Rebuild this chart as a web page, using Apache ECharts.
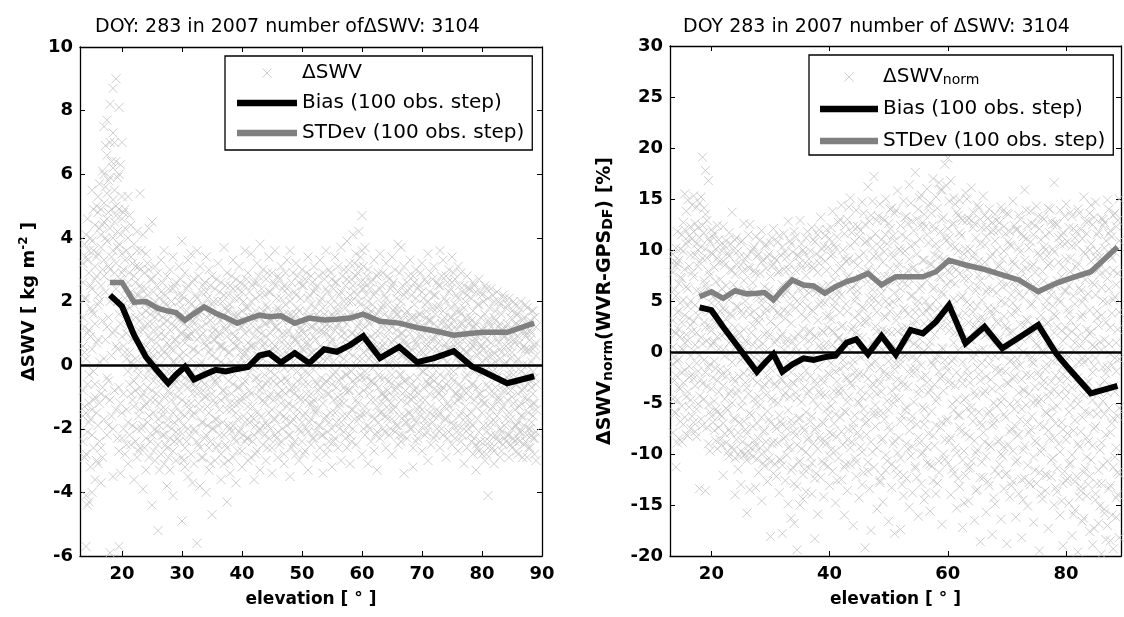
<!DOCTYPE html>
<html>
<head>
<meta charset="utf-8">
<script src="https://cdn.jsdelivr.net/npm/echarts@6/dist/echarts.min.js"></script>
<style>
  html, body { margin: 0; padding: 0; background: #ffffff; }
  #chart { width: 1124px; height: 617px; }
</style>
</head>
<body>
<div id="chart"></div>
<script>
// Tick positions along the elevation axes
const elevationTicksLeft = [20, 30, 40, 50, 60, 70, 80, 90];
const elevationTicksRight = [20, 40, 60, 80];

// Elevation of each 100-observation step
const stepElevation = [18, 20, 22, 24, 26, 27.7, 29, 30.5, 32, 33.7, 35.6, 37.3, 39.2, 41, 42.9, 44.5,
  46.5, 48.8, 51.2, 53.7, 55.8, 58, 60.2, 63, 66.2, 69.2, 72, 75.3, 78.3, 80.2, 84.2, 88.7];

// Step statistics of ΔSWV [kg m^-2]
const biasSwv = [2.2, 1.85, 0.95, 0.25, -0.2, -0.57, -0.3, -0.05, -0.45, -0.3, -0.15, -0.2, -0.12, -0.06, 0.3, 0.37,
  0.08, 0.38, 0.06, 0.5, 0.42, 0.63, 0.91, 0.22, 0.57, 0.09, 0.22, 0.44, -0.04, -0.2, -0.57, -0.35];
const stdSwv = [2.6, 2.6, 1.98, 2.0, 1.78, 1.7, 1.65, 1.41, 1.62, 1.83, 1.63, 1.5, 1.32, 1.45, 1.57, 1.52,
  1.55, 1.32, 1.48, 1.42, 1.44, 1.48, 1.6, 1.38, 1.32, 1.18, 1.08, 0.94, 1.0, 1.03, 1.03, 1.32];

// Step statistics of normalised ΔSWV [%]
const biasNorm = [4.38, 4.1, 2.45, 0.9, -0.62, -1.93, -1.1, -0.2, -1.93, -1.2, -0.62, -0.78, -0.5, -0.35, 0.92, 1.24,
  -0.2, 1.57, -0.25, 2.16, 1.83, 2.97, 4.6, 0.85, 2.48, 0.36, 1.4, 2.65, -0.13, -1.44, -4.05, -3.33];
const stdNorm = [5.42, 5.9, 5.26, 6.0, 5.7, 5.75, 5.82, 5.1, 6.1, 7.06, 6.57, 6.47, 5.75, 6.4, 6.9, 7.2,
  7.71, 6.57, 7.38, 7.38, 7.38, 7.87, 9.0, 8.53, 8.1, 7.55, 7.06, 5.92, 6.73, 7.12, 7.87, 10.3];

// Individual ΔSWV values [kg m^-2]; each row: elevation, then values at that elevation
const swvScatterRows = [
  [13.5, 3.2, 1.5, -0.8, -1.6, -2.4, 0.6, 2.6],
  [14, 4.1, -1.5, -4.1, -5.7, 0.2, 2.1, -2.8, 3.4],
  [14.5, 2.9, -1.2, -4.3, 1.1, -0.3, 3.6, -1.8],
  [15, 5.5, 3.9, -1.4, -4.0, 2.4, 0.5, -2.2, 1.7],
  [15.5, 4.4, 3.1, -0.6, -3.6, 1.3, 2.7, -1.0],
  [16, 5.3, 4.8, 2.2, -3.1, 0.8, 3.5, -1.9, 1.9],
  [16.5, 4.9, 3.7, -0.9, -3.7, 2.5, 4.1, -2.6],
  [17, 7.5, 6.0, 4.5, 3.3, 0.2, -1.7, 2.8, 5.1],
  [17.5, 7.7, 6.6, 5.4, 3.9, -2.2, 1.2, 4.6, -0.4],
  [18, 8.2, 7.0, 5.9, 4.3, 2.0, -5.9, 3.0, -1.1],
  [18.5, 8.7, 7.3, 6.2, 5.2, 3.6, -3.5, 1.0, 4.0, -2.0],
  [19, 9.0, 6.4, 5.0, 3.2, 0.6, -1.4, 4.7, 2.4],
  [19.5, 8.1, 6.0, 4.9, 3.8, -5.7, -2.7, 1.6, -0.7],
  [20, 7.0, 5.3, 4.6, 2.9, -1.5, 0.9, 3.5, -2.3],
  [20.5, 4.9, 4.3, 2.1, 0.4, -2.8, 1.7, 3.3],
  [21, 5.3, 4.0, 2.6, -0.2, -1.8, 1.2, -3.1],
  [21.5, 4.4, 3.4, 1.5, -0.9, -2.5, 2.3, 0.1],
  [22, 3.8, 2.8, 0.9, -1.3, -3.6, 1.9, -0.5],
  [22.5, 4.2, 3.6, 2.2, -0.1, -2.0, 0.8, -2.9],
  [23, 5.4, 3.0, 1.4, -0.7, -2.6, 2.5, -1.4],
  [23.5, 4.1, 2.1, 0.3, -1.9, -3.9, 1.1, -0.9],
  [24, 3.5, 2.4, 1.7, -0.4, -2.3, 0.6, -3.3, -1.2],
  [24.5, 4.3, 3.0, 0.9, -1.6, -2.9, 1.8, -0.2],
  [25, 4.5, 2.7, 1.3, -0.8, -2.2, 0.2, -4.4],
  [25.5, 3.1, 2.0, 0.5, -1.1, -3.0, 1.5, -2.0],
  [26, 2.9, 1.6, -0.3, -1.7, -2.5, 0.9, -5.2],
  [26.5, 3.3, 2.3, 1.0, -0.6, -2.8, -1.4, 0.3],
  [27, 3.6, 2.0, 0.4, -1.0, -3.1, 1.3, -2.2],
  [27.5, 2.8, 1.4, -0.2, -1.9, -3.8, 0.7, -2.6],
  [28, 3.0, 1.8, 0.6, -0.9, -2.3, -3.3, 1.1],
  [28.5, 3.4, 2.4, 0.1, -1.5, -2.7, -4.1, 1.6],
  [29, 2.6, 1.2, -0.5, -1.3, -3.0, 0.8, -2.1],
  [29.5, 3.1, 2.0, 0.3, -0.8, -2.4, -1.7, 1.4],
  [30, 3.9, 2.2, 1.0, -1.1, -2.9, -4.9, 0.2],
  [30.5, 2.9, 1.5, -0.4, -1.6, -2.6, 0.7, -3.2],
  [31, 3.3, 2.5, 0.9, -0.7, -2.0, -3.5, 1.2],
  [31.5, 3.5, 1.9, 0.2, -1.2, -2.8, 1.0, -0.3],
  [32, 2.7, 1.3, -0.6, -2.0, -3.1, 0.5, -1.5],
  [32.5, 3.6, 2.1, 0.8, -0.9, -2.4, -5.6, 1.5],
  [33, 3.1, 1.7, 0.0, -1.4, -3.8, -2.6, 0.9],
  [33.5, 2.5, 1.0, -0.8, -1.8, -2.9, 1.9, -0.2],
  [34, 3.4, 2.3, 0.6, -1.0, -2.2, -4.0, 1.3],
  [34.5, 3.0, 1.6, -0.3, -1.5, -3.3, 0.4, -2.6],
  [35, 2.8, 1.9, 0.3, -0.9, -2.0, -4.7, 1.0],
  [35.5, 2.4, 1.1, -0.5, -1.7, -3.0, 0.8, -1.2],
  [36, 3.2, 2.0, 0.9, -0.4, -2.5, -1.9, 1.5],
  [36.5, 2.6, 1.4, 0.1, -1.1, -2.8, -3.6, 0.6],
  [37, 3.7, 2.2, 0.5, -0.8, -2.2, -3.1, 1.2],
  [37.5, 2.9, 1.7, -0.2, -1.4, -2.6, 0.9, -4.3],
  [38, 2.5, 1.3, 0.4, -1.2, -3.4, -2.0, 1.9],
  [38.5, 3.3, 2.4, 0.7, -0.6, -1.9, -2.9, 1.0],
  [39, 2.7, 1.5, -0.1, -1.5, -2.4, 0.6, -3.7],
  [39.5, 3.1, 2.1, 0.8, -0.7, -2.1, -1.2, 1.4],
  [40, 2.3, 1.2, 0.2, -1.0, -2.7, -3.2, 1.7],
  [40.5, 3.6, 2.5, 1.0, -0.5, -1.8, -2.4, 0.4],
  [41, 2.9, 1.8, -0.3, -1.3, -2.3, 0.7, -3.0],
  [41.5, 3.5, 2.0, 0.6, -0.9, -2.9, 1.3, -1.6],
  [42, 2.6, 1.5, 0.0, -1.7, -2.2, 0.9, -3.6],
  [42.5, 3.2, 2.6, 1.1, -0.4, -1.5, -2.7, 0.3],
  [43, 3.8, 2.2, 0.8, -0.8, -2.0, -3.3, 1.5],
  [43.5, 3.0, 1.7, 0.2, -1.1, -2.5, 0.6, -1.9],
  [44, 2.7, 1.9, 0.9, -0.6, -1.8, -3.0, 1.3],
  [44.5, 3.4, 2.3, 0.4, -1.0, -2.3, 1.6, -1.5],
  [45, 2.9, 1.4, 0.0, -1.4, -2.6, 0.7, -3.4],
  [45.5, 3.6, 2.5, 1.2, -0.3, -1.7, -2.2, 0.6],
  [46, 2.8, 1.8, 0.5, -0.9, -2.1, -2.9, 1.1],
  [46.5, 3.1, 2.1, 0.3, -1.2, -2.4, 1.5, -0.5],
  [47, 2.5, 1.6, -0.1, -1.6, -2.8, 0.8, -3.1],
  [47.5, 3.3, 2.4, 1.0, -0.5, -1.9, -1.3, 0.4],
  [48, 3.6, 2.0, 0.6, -0.8, -2.2, -3.5, 1.4],
  [48.5, 2.9, 1.5, 0.1, -1.3, -2.5, 0.9, -1.7],
  [49, 3.2, 2.2, 0.8, -0.7, -1.6, -2.8, 1.6],
  [49.5, 2.6, 1.7, 0.3, -1.0, -2.0, 1.0, -3.0],
  [50, 3.0, 2.5, 1.1, -0.4, -1.8, -2.4, 0.5],
  [50.5, 2.7, 1.3, -0.2, -1.5, -2.7, 0.7, -1.1],
  [51, 3.4, 2.1, 0.7, -0.6, -2.1, 1.5, -3.3],
  [51.5, 2.8, 1.9, 0.4, -0.9, -1.7, -2.5, 1.2],
  [52, 3.1, 2.3, 0.9, -1.1, -2.3, 0.2, -1.4],
  [52.5, 2.5, 1.6, 0.0, -1.4, -2.9, 1.1, -0.6],
  [53, 3.3, 2.0, 0.6, -0.7, -1.9, -2.6, 1.4],
  [53.5, 2.9, 1.8, 0.2, -1.2, -2.2, 1.0, -3.4],
  [54, 3.6, 2.4, 1.0, -0.5, -1.6, -2.8, 0.5],
  [54.5, 3.0, 1.5, 0.3, -0.9, -2.4, 1.2, -1.8],
  [55, 2.7, 2.1, 0.8, -0.6, -2.0, -3.2, 1.6],
  [55.5, 3.4, 2.6, 1.1, -0.2, -1.5, -2.3, 0.4],
  [56, 3.1, 1.9, 0.5, -1.0, -2.6, 1.3, -1.3],
  [56.5, 3.7, 2.3, 0.9, -0.4, -1.8, -3.0, 1.5],
  [57, 3.0, 2.0, 0.2, -1.2, -2.1, 1.0, -0.7],
  [57.5, 3.9, 2.7, 1.3, -0.3, -1.6, -2.6, 0.6],
  [58, 3.2, 2.2, 0.7, -0.8, -2.2, 1.6, -3.1],
  [58.5, 4.1, 2.5, 1.0, -0.5, -1.4, -2.0, 0.3],
  [59, 3.5, 2.8, 1.5, 0.0, -1.1, -2.5, 0.9],
  [59.5, 4.2, 3.1, 2.0, 0.6, -0.9, -1.7, 1.3],
  [60, 4.7, 3.6, 2.4, 1.1, -0.4, -1.5, -2.8, 0.2],
  [60.5, 3.7, 2.6, 1.2, -0.2, -1.3, -2.2, 0.8],
  [61, 3.0, 2.0, 0.5, -0.7, -1.9, -3.1, 1.4],
  [61.5, 2.6, 1.7, 0.3, -1.1, -2.4, 0.9, -0.5],
  [62, 3.3, 2.2, 0.8, -0.6, -1.7, -2.7, 1.5],
  [62.5, 2.8, 1.6, 0.1, -1.3, -2.1, 0.6, -3.3],
  [63, 3.5, 2.4, 1.0, -0.4, -1.5, -2.3, 0.4],
  [63.5, 2.9, 1.9, 0.6, -0.9, -2.0, 1.3, -1.2],
  [64, 3.2, 2.1, 0.4, -1.0, -2.6, 0.9, -1.6],
  [64.5, 2.7, 1.5, 0.0, -1.4, -2.2, 1.1, -0.5],
  [65, 3.4, 2.5, 1.2, -0.3, -1.7, -2.8, 0.7],
  [65.5, 3.0, 1.8, 0.5, -0.8, -2.1, 1.4, -1.3],
  [66, 3.8, 2.3, 0.9, -0.6, -1.9, -2.5, 1.6],
  [66.5, 3.7, 2.0, 0.3, -1.1, -2.4, 1.0, -0.3],
  [67, 3.1, 2.2, 0.8, -0.5, -1.6, -3.4, 1.3],
  [67.5, 2.6, 1.7, 0.2, -1.2, -2.3, 0.6, -1.8],
  [68, 3.3, 2.4, 1.0, -0.4, -1.5, -2.0, 0.4],
  [68.5, 2.8, 1.5, 0.1, -1.0, -2.6, 1.2, -3.2],
  [69, 3.0, 2.1, 0.7, -0.7, -1.8, -2.4, 1.5],
  [69.5, 2.5, 1.6, 0.4, -0.9, -2.1, 0.9, -1.3],
  [70, 3.2, 2.3, 0.9, -0.2, -1.4, -2.7, 1.1],
  [70.5, 2.7, 1.9, 0.3, -1.1, -2.2, 0.6, -1.7],
  [71, 3.5, 2.0, 0.6, -0.6, -1.9, 1.4, -3.0],
  [71.5, 2.9, 1.4, 0.0, -1.3, -2.5, 0.8, -0.4],
  [72, 3.1, 2.2, 0.8, -0.5, -1.6, -2.3, 1.3],
  [72.5, 2.6, 1.8, 0.5, -0.8, -2.0, 1.0, -1.4],
  [73, 3.6, 2.5, 1.1, -0.3, -1.5, -2.6, 0.4],
  [73.5, 3.3, 1.7, 0.2, -1.0, -2.2, 1.4, -0.7],
  [74, 2.8, 2.0, 0.7, -0.6, -1.7, -2.9, 1.0],
  [74.5, 3.0, 2.3, 1.2, -0.2, -1.3, -2.1, 0.5],
  [75, 3.4, 2.6, 0.9, -0.4, -1.8, -2.5, 1.5],
  [75.5, 2.7, 1.9, 0.6, -0.9, -2.3, 1.2, -1.2],
  [76, 3.1, 2.1, 0.3, -1.1, -1.9, 0.8, -2.7],
  [76.5, 2.9, 1.6, 0.0, -0.7, -2.4, 1.3, -1.5],
  [77, 2.5, 1.8, 0.5, -0.8, -2.0, -3.1, 1.1],
  [77.5, 2.8, 2.2, 0.9, -0.3, -1.6, -2.6, 0.4],
  [78, 2.4, 1.5, 0.2, -1.0, -2.2, 0.7, -1.8],
  [78.5, 2.6, 1.7, 0.6, -0.6, -1.9, -2.8, 1.2],
  [79, 2.3, 1.3, -0.1, -1.3, -2.5, 0.8, -3.3],
  [79.5, 2.7, 1.9, 0.4, -0.9, -2.1, -2.7, 1.0],
  [80, 2.2, 1.1, 0.1, -1.5, -2.8, 0.6, -1.1],
  [80.5, 2.5, 1.6, -0.2, -1.2, -2.4, -3.0, 0.9],
  [81, 2.1, 1.4, 0.3, -0.7, -1.9, -2.6, -4.1],
  [81.5, 2.4, 1.2, 0.0, -1.4, -2.2, 0.7, -1.8],
  [82, 2.0, 1.5, 0.4, -0.9, -2.7, -3.1, -0.3],
  [82.5, 2.3, 1.0, -0.4, -1.6, -2.3, 0.8, -1.1],
  [83, 1.9, 1.3, 0.2, -1.1, -2.0, -2.9, 0.5],
  [83.5, 2.2, 0.9, -0.5, -1.3, -2.5, 1.1, -0.8],
  [84, 1.8, 1.2, 0.1, -0.8, -1.7, -2.4, 0.6],
  [84.5, 2.1, 0.8, -0.3, -1.5, -2.2, -2.9, 1.0],
  [85, 1.7, 1.1, -0.1, -1.0, -2.0, -2.6, 0.4],
  [85.5, 1.9, 0.7, -0.6, -1.4, -2.4, 1.3, -1.9],
  [86, 1.6, 0.9, 0.2, -0.9, -1.8, -2.3, -2.8],
  [86.5, 2.0, 1.2, -0.2, -1.2, -2.1, 0.5, -1.6],
  [87, 1.5, 0.6, -0.4, -0.7, -1.9, -2.5, 1.0],
  [87.5, 1.8, 1.0, 0.0, -1.1, -2.2, -2.9, 0.4],
  [88, 1.4, 0.8, -0.5, -1.3, -2.0, -2.6, 1.1],
  [88.5, 1.7, 0.5, -0.2, -0.9, -1.6, -2.3, -1.2],
  [89, 1.2, 0.7, -0.6, -1.4, -2.1, 0.3, -3.0]
];

// Further ΔSWV values [kg m^-2] between the rows above
const swvScatterRowsB = [
  [13.75, 2.1, 0.4, -1.3, 3.8, -2.9, 1.2],
  [14.25, 3.3, 1.0, -0.6, -2.1, 4.6, -4.4],
  [14.75, 2.5, 0.9, -1.7, 4.0, -3.2, 1.8],
  [15.25, 3.6, 1.6, -0.2, -2.6, 4.9, -1.1],
  [15.75, 2.8, 0.7, -1.5, 3.4, 5.0, -3.0],
  [16.25, 4.3, 2.0, 0.1, -1.2, 5.7, -2.4],
  [16.75, 3.0, 1.4, -0.7, 4.4, 6.1, -2.9],
  [17.25, 4.0, 2.3, 0.8, -1.0, 5.6, 6.9],
  [17.75, 4.8, 3.1, 1.5, -0.5, 5.8, -1.9],
  [18.25, 3.4, 2.6, 0.3, -1.6, 6.4, 4.9],
  [18.75, 4.5, 2.9, 1.1, -0.8, 5.5, 7.0],
  [19.25, 3.7, 2.0, 0.5, -2.3, 5.9, 4.2],
  [19.75, 4.1, 2.7, 1.3, -1.2, 6.3, -3.4],
  [20.25, 3.0, 1.9, 0.6, -0.9, 4.8, -2.0],
  [20.75, 3.6, 2.4, 1.0, -1.4, -2.5, 0.2],
  [21.25, 2.9, 1.8, 0.4, -0.6, -2.2, 4.7],
  [21.75, 3.2, 2.0, 0.8, -1.1, -1.9, 0.0],
  [22.25, 2.6, 1.5, 0.2, -0.8, -2.4, 3.1],
  [22.75, 3.1, 2.2, 1.1, -0.3, -1.6, -2.7],
  [23.25, 2.4, 1.6, 0.6, -1.0, -2.0, 3.6],
  [23.75, 2.9, 1.9, 0.0, -1.3, -2.6, 1.2],
  [24.25, 2.2, 1.3, 0.4, -0.7, -1.8, 3.2],
  [24.75, 2.7, 1.6, -0.1, -1.1, -2.4, 0.8],
  [25.25, 2.3, 1.1, 0.3, -0.5, -1.5, -2.7],
  [25.75, 2.5, 1.7, 0.7, -0.9, -2.1, -0.3],
  [26.25, 2.1, 1.2, 0.0, -1.2, -1.9, -3.3],
  [26.75, 2.6, 1.5, 0.5, -0.4, -2.2, -1.6],
  [27.25, 2.2, 0.9, -0.6, -1.4, -2.5, 1.9],
  [27.75, 2.4, 1.6, 0.3, -0.8, -1.7, -2.9],
  [28.25, 2.0, 1.3, -0.2, -1.1, -2.0, 0.5],
  [28.75, 2.5, 0.8, 0.1, -0.6, -1.8, -2.4],
  [29.25, 2.2, 1.5, 0.6, -1.0, -2.3, -0.2],
  [29.75, 2.7, 1.0, -0.3, -1.5, -2.1, 1.8],
  [30.25, 2.1, 1.3, 0.4, -0.6, -1.9, -3.0],
  [30.75, 2.4, 1.7, 0.0, -1.2, -2.4, 0.9],
  [31.25, 2.0, 0.9, -0.5, -1.4, -2.2, 1.5],
  [31.75, 2.6, 1.4, 0.5, -0.9, -1.6, -3.7],
  [32.25, 2.2, 1.1, -0.1, -0.7, -2.1, 1.8],
  [32.75, 2.8, 1.6, 0.4, -1.2, -2.5, -0.4],
  [33.25, 2.3, 1.2, 0.1, -0.5, -1.8, -2.9],
  [33.75, 2.6, 1.8, 0.7, -1.0, -2.3, -0.6],
  [34.25, 2.1, 0.8, -0.2, -1.3, -1.9, 1.5],
  [34.75, 2.5, 1.4, 0.5, -0.7, -2.4, -3.1],
  [35.25, 2.0, 1.2, -0.4, -1.1, -2.0, 0.8],
  [35.75, 2.7, 1.6, 0.2, -0.6, -1.7, -2.6],
  [36.25, 2.3, 1.0, -0.1, -1.4, -2.2, 0.6],
  [36.75, 2.0, 1.5, 0.6, -0.8, -1.8, -0.3],
  [37.25, 2.5, 1.1, 0.0, -1.0, -2.5, 1.8],
  [37.75, 2.2, 1.7, 0.4, -0.5, -1.9, -3.0],
  [38.25, 2.8, 1.3, 0.1, -0.9, -2.1, -1.4],
  [38.75, 2.1, 0.9, -0.3, -1.2, -2.3, 1.6],
  [39.25, 2.4, 1.6, 0.6, -0.7, -1.7, -2.7],
  [39.75, 2.6, 1.2, 0.0, -1.1, -2.0, 0.4],
  [40.25, 2.0, 1.4, 0.3, -0.6, -1.6, -2.2],
  [40.75, 2.7, 1.8, 0.5, -1.0, -2.3, 0.0],
  [41.25, 2.3, 1.1, 0.2, -0.8, -1.8, 1.5],
  [41.75, 2.5, 1.5, -0.1, -1.3, -2.4, 0.6],
  [42.25, 2.1, 1.7, 0.6, -0.4, -1.9, -2.8],
  [42.75, 2.8, 1.2, 0.3, -1.0, -2.1, -0.6],
  [43.25, 2.4, 1.6, 0.0, -0.7, -1.6, 1.0],
  [43.75, 2.2, 1.3, 0.7, -1.2, -2.2, -0.3],
  [44.25, 2.9, 1.8, 0.4, -0.5, -1.9, -2.6],
  [44.75, 2.3, 1.0, -0.2, -0.9, -2.0, 1.4],
  [45.25, 2.6, 1.5, 0.5, -1.1, -1.7, -0.5],
  [45.75, 2.1, 1.2, 0.2, -0.6, -2.3, 1.7],
  [46.25, 2.7, 1.7, 0.8, -1.0, -1.5, -2.5],
  [46.75, 2.4, 1.4, 0.0, -0.8, -2.0, 1.0],
  [47.25, 2.9, 1.9, 0.6, -0.4, -1.7, -0.9],
  [47.75, 2.2, 1.1, 0.3, -1.2, -2.2, 1.6],
  [48.25, 2.6, 1.6, -0.1, -0.7, -1.8, -2.6],
  [48.75, 2.3, 1.3, 0.4, -0.9, -2.4, 0.8],
  [49.25, 2.8, 1.8, 0.7, -0.5, -1.4, -0.2],
  [49.75, 2.1, 1.4, 0.0, -1.1, -2.1, 1.2],
  [50.25, 2.5, 1.0, 0.5, -0.6, -1.6, -2.8],
  [50.75, 2.9, 1.7, 0.2, -0.9, -2.0, 0.9],
  [51.25, 2.2, 1.5, 0.6, -0.3, -1.8, -1.2],
  [51.75, 2.6, 1.2, -0.1, -1.2, -2.3, 0.4],
  [52.25, 2.4, 1.8, 0.8, -0.5, -1.5, -2.1],
  [52.75, 2.8, 1.4, 0.3, -0.8, -1.9, 1.5],
  [53.25, 2.1, 1.1, 0.0, -1.0, -2.2, -0.4],
  [53.75, 2.7, 1.6, 0.5, -0.6, -1.7, 1.2],
  [54.25, 2.3, 1.3, 0.2, -0.9, -2.1, -2.6],
  [54.75, 2.9, 1.9, 0.7, -0.4, -1.5, 0.9],
  [55.25, 2.4, 1.5, 0.1, -1.1, -2.4, -0.3],
  [55.75, 2.6, 1.2, 0.6, -0.7, -1.8, 1.7],
  [56.25, 2.2, 1.7, 0.3, -0.5, -2.0, -1.2],
  [56.75, 2.8, 1.4, 0.0, -1.0, -1.6, 1.1],
  [57.25, 2.5, 1.8, 0.8, -0.3, -2.3, -0.8],
  [57.75, 3.0, 1.5, 0.4, -0.8, -1.9, 2.0],
  [58.25, 2.7, 2.0, 1.0, -0.2, -1.4, -2.4],
  [58.75, 3.2, 1.6, 0.6, -0.6, -1.7, 2.3],
  [59.25, 2.9, 2.2, 1.2, 0.2, -1.2, -0.4],
  [59.75, 3.4, 1.9, 0.9, -0.3, -1.6, 2.6],
  [60.25, 3.1, 2.4, 1.5, 0.4, -0.8, -2.0],
  [60.75, 2.8, 1.8, 0.8, -0.4, -1.5, 2.2],
  [61.25, 2.4, 1.3, 0.2, -0.9, -2.0, 1.6],
  [61.75, 2.7, 1.9, 0.6, -0.5, -1.6, -0.1],
  [62.25, 2.3, 1.4, 0.0, -1.1, -2.2, 1.0],
  [62.75, 2.9, 1.7, 0.5, -0.7, -1.8, -0.3],
  [63.25, 2.5, 1.2, 0.3, -0.9, -1.5, 1.8],
  [63.75, 2.2, 1.6, 0.7, -0.4, -2.1, -1.0],
  [64.25, 2.8, 1.9, 0.1, -0.8, -1.7, 1.3],
  [64.75, 2.4, 1.3, 0.4, -0.6, -2.0, -1.2],
  [65.25, 2.6, 1.7, 0.8, -1.0, -1.4, 0.2],
  [65.75, 2.1, 1.1, 0.0, -0.7, -1.9, 1.6],
  [66.25, 2.9, 1.8, 0.6, -0.3, -1.6, -2.2],
  [66.75, 2.5, 1.4, 0.3, -0.9, -2.2, 1.0],
  [67.25, 2.3, 1.6, 0.7, -0.5, -1.8, -0.8],
  [67.75, 2.8, 1.2, 0.1, -1.0, -1.5, 1.4],
  [68.25, 2.2, 1.5, 0.5, -0.6, -2.0, -1.1],
  [68.75, 2.6, 1.9, 0.2, -0.8, -1.7, 0.8],
  [69.25, 2.4, 1.3, 0.6, -0.4, -2.3, -1.4],
  [69.75, 2.9, 1.6, 0.0, -1.1, -1.6, 1.2],
  [70.25, 2.1, 1.2, 0.4, -0.7, -1.9, -0.2],
  [70.75, 2.6, 1.7, 0.8, -0.5, -2.1, 1.5],
  [71.25, 2.3, 1.4, 0.2, -0.9, -1.5, -0.6],
  [71.75, 2.7, 1.1, 0.5, -0.3, -1.8, 1.8],
  [72.25, 2.2, 1.6, 0.0, -1.0, -2.2, 0.9],
  [72.75, 2.5, 1.9, 0.7, -0.6, -1.6, -0.9],
  [73.25, 2.8, 1.3, 0.3, -0.8, -2.0, 1.1],
  [73.75, 2.1, 1.5, 0.6, -0.4, -1.7, -1.3],
  [74.25, 2.6, 1.2, 0.1, -1.2, -2.3, 0.5],
  [74.75, 2.4, 1.8, 0.5, -0.7, -1.5, 1.5],
  [75.25, 2.9, 1.4, 0.8, -0.5, -1.9, -0.2],
  [75.75, 2.2, 1.1, 0.2, -0.9, -2.1, 1.7],
  [76.25, 2.5, 1.7, 0.6, -0.6, -1.6, -1.0],
  [76.75, 2.3, 1.3, 0.0, -1.0, -2.2, 0.8],
  [77.25, 2.0, 1.5, 0.4, -0.4, -1.8, -1.3],
  [77.75, 2.4, 1.0, 0.1, -0.8, -2.0, 1.3],
  [78.25, 2.1, 1.4, 0.5, -0.6, -1.5, -2.4],
  [78.75, 2.5, 1.2, -0.2, -1.1, -2.3, 0.7],
  [79.25, 1.9, 0.9, 0.3, -0.7, -1.7, -2.6],
  [79.75, 2.3, 1.5, 0.6, -0.9, -2.4, -0.3],
  [80.25, 2.0, 1.2, -0.1, -1.2, -1.9, 0.5],
  [80.75, 2.4, 0.8, 0.2, -0.6, -2.1, -2.8],
  [81.25, 1.8, 1.3, 0.5, -0.9, -1.6, -2.4],
  [81.75, 2.2, 1.0, -0.2, -1.3, -2.6, 0.3],
  [82.25, 1.7, 1.4, 0.1, -0.7, -1.8, -2.2],
  [82.75, 2.0, 0.7, -0.3, -1.0, -2.4, 1.2],
  [83.25, 1.6, 1.1, 0.4, -1.4, -2.1, -2.7],
  [83.75, 2.1, 0.9, 0.0, -0.6, -1.9, -2.3],
  [84.25, 1.9, 1.3, -0.4, -1.1, -2.2, 0.4],
  [84.75, 1.5, 0.6, 0.2, -0.8, -1.7, -2.5],
  [85.25, 2.0, 1.0, -0.3, -1.2, -2.3, 0.8],
  [85.75, 1.6, 1.3, 0.1, -0.6, -1.9, -2.7],
  [86.25, 1.8, 0.7, -0.5, -1.3, -2.1, -2.4],
  [86.75, 1.4, 1.1, 0.0, -0.8, -1.6, -2.9],
  [87.25, 1.9, 0.9, -0.3, -1.0, -2.4, 0.5],
  [87.75, 1.3, 0.5, -0.6, -1.5, -2.0, -2.6],
  [88.25, 1.7, 1.0, 0.1, -0.7, -1.8, -2.2],
  [88.75, 1.5, 0.6, -0.4, -1.2, -2.3, -2.8]
];

// Individual normalised ΔSWV values [%]; each row: elevation, then values
const swvNormScatterRows = [
  [13.5, 7.8, 3.1, -1.2, -4.6, 0.5, 9.6, -7.9],
  [14, 10.2, 5.5, -2.3, -11.3, 1.8, -6.0, 8.4],
  [14.5, 9.0, 4.0, -0.7, -8.5, 6.7, -3.5, 2.2],
  [15, 11.5, 7.2, 2.9, -5.3, -8.8, 0.3, -2.0],
  [15.5, 15.5, 12.0, 8.1, 3.6, -1.8, -6.4, 0.9],
  [16, 14.9, 10.9, 6.2, 1.1, -3.9, -8.2, 4.5],
  [16.5, 12.3, 9.5, 5.0, -0.4, -4.7, -7.5, 2.6],
  [17, 15.3, 11.8, 7.4, 3.0, -2.6, -6.9, 0.1],
  [17.5, 14.2, 10.6, 6.0, 1.9, -1.1, -5.6, -8.3],
  [18, 14.6, 11.2, 8.8, 4.2, -0.3, -4.3, -13.4],
  [18.5, 19.1, 12.4, 9.2, 5.5, 0.8, -3.1, -7.2],
  [19, 17.8, 13.5, 10.1, 6.6, 2.4, -2.0, -13.6],
  [19.5, 16.8, 11.1, 7.9, 3.9, -1.5, -5.2, -9.0],
  [20, 12.0, 9.7, 4.8, 0.6, -3.6, -6.3, 2.1],
  [20.5, 11.6, 8.3, 3.4, -0.9, -4.8, -7.7, 1.0],
  [21, 12.4, 9.2, 5.7, 1.5, -2.8, -5.9, -9.5],
  [21.5, 10.5, 7.1, 2.7, -1.7, -6.1, -8.6, 4.0],
  [22, 12.3, 8.9, 4.3, 0.2, -3.3, -7.0, -12.1],
  [22.5, 10.9, 6.5, 1.9, -2.4, -5.5, -8.9, 3.2],
  [23, 11.7, 9.4, 5.1, 0.9, -4.1, -7.6, -10.2],
  [23.5, 13.7, 8.0, 3.5, -1.0, -5.0, -9.3, 1.6],
  [24, 11.0, 7.6, 2.4, -2.9, -6.6, -10.4, -14.0],
  [24.5, 9.9, 6.1, 1.3, -3.7, -7.9, -11.5, 4.4],
  [25, 10.8, 8.5, 4.0, -0.8, -5.4, -9.7, -13.0],
  [25.5, 12.6, 7.0, 2.2, -2.1, -6.8, -10.1, 0.4],
  [26, 9.4, 5.9, 1.0, -3.5, -8.0, -10.6, -15.8],
  [26.5, 12.5, 8.2, 3.7, -1.4, -6.0, -9.9, -13.5],
  [27, 10.1, 6.8, 2.6, -2.6, -7.3, -10.3, 0.7],
  [27.5, 11.3, 7.7, 3.2, -1.9, -5.1, -9.2, -13.3],
  [28, 9.6, 5.3, 0.5, -4.4, -8.5, -11.8, 2.9],
  [28.5, 11.9, 8.8, 4.6, -0.6, -6.4, -10.0, -14.6],
  [29, 10.4, 6.4, 1.7, -3.2, -7.7, -11.2, 3.8],
  [29.5, 9.3, 5.6, 2.0, -2.3, -5.8, -9.6, -12.7],
  [30, 10.7, 7.4, 3.0, -1.6, -6.9, -10.8, -18.1],
  [30.5, 12.1, 8.6, 4.3, -0.2, -4.9, -8.8, -11.9],
  [31, 9.0, 5.2, 1.2, -3.4, -7.5, -12.2, 2.5],
  [31.5, 11.4, 7.9, 3.6, -1.3, -6.2, -10.5, -13.8],
  [32, 10.3, 6.6, 1.8, -2.7, -7.1, -11.1, -17.8],
  [32.5, 9.8, 5.7, 0.8, -4.0, -8.3, -12.6, 3.3],
  [33, 12.8, 8.1, 3.9, -0.9, -5.7, -9.4, -14.9],
  [33.5, 10.6, 7.3, 2.8, -2.0, -6.7, -11.6, -16.3],
  [34, 11.8, 6.9, 1.4, -3.1, -7.8, -12.9, -16.8],
  [34.5, 9.5, 5.0, 0.0, -4.5, -9.1, -13.2, -19.4],
  [35, 12.9, 8.7, 4.7, -1.1, -6.5, -10.7, -15.0],
  [35.5, 10.0, 6.3, 2.3, -2.5, -7.4, -12.0, -14.4],
  [36, 11.2, 7.5, 3.3, -1.8, -5.9, -9.8, -13.7],
  [36.5, 9.1, 5.8, 1.1, -3.8, -8.4, -11.4, 2.0],
  [37, 12.2, 8.4, 4.1, -0.5, -6.3, -10.9, -13.9],
  [37.5, 10.8, 6.2, 1.6, -2.8, -7.6, -12.4, -18.3],
  [38, 11.5, 7.8, 3.1, -1.5, -5.3, -9.5, -15.9],
  [38.5, 13.2, 9.3, 4.9, 0.3, -4.2, -8.7, -12.3],
  [39, 10.4, 6.0, 1.9, -3.0, -7.0, -11.0, -14.2],
  [39.5, 12.0, 8.0, 3.5, -0.7, -5.6, -9.0, 0.9],
  [40, 11.1, 5.4, 3.6, -2.2, -7.9, -10.2, -13.1],
  [40.5, 13.8, 9.6, 2.1, 0.7, -4.6, -8.1, -11.7],
  [41, 10.2, 7.8, 4.9, -1.9, -6.1, -9.7, -14.8],
  [41.5, 12.7, 6.0, 1.4, -0.1, -3.8, -10.4, 1.3],
  [42, 14.4, 8.4, 5.6, 2.5, -3.6, -7.8, -12.5],
  [42.5, 11.6, 9.2, 0.8, -1.4, -5.8, -11.3, -16.0],
  [43, 13.0, 7.3, 4.0, -2.6, -4.9, -8.6, -13.6],
  [43.5, 15.1, 10.4, 6.1, 0.2, -3.0, -9.4, -11.0],
  [44, 12.3, 8.9, 2.5, -0.8, -6.9, -7.5, -17.0],
  [44.5, 13.9, 6.6, 5.4, 1.9, -2.5, -10.8, -12.2],
  [45, 11.3, 9.3, 3.7, -2.1, -5.0, -8.3, -14.3],
  [45.5, 14.7, 7.6, 4.4, 1.4, -4.4, -9.8, -13.0],
  [46, 12.5, 10.7, 2.9, -0.3, -6.3, -7.0, -19.2],
  [46.5, 16.2, 8.1, 6.9, 3.5, -2.6, -11.7, -10.8],
  [47, 13.4, 11.1, 4.6, -1.2, -3.5, -8.8, -17.5],
  [47.5, 17.2, 9.4, 5.3, 0.6, -5.9, -6.2, -11.3],
  [48, 12.9, 7.0, 3.9, 2.0, -4.1, -9.4, -15.4],
  [48.5, 14.5, 10.3, 6.4, -1.6, -3.1, -12.6, -12.8],
  [49, 13.1, 8.8, 2.2, 0.2, -6.0, -8.5, -14.7],
  [49.5, 15.0, 11.5, 5.0, 3.4, -2.3, -10.1, -11.6],
  [50, 12.6, 7.4, 4.7, -0.9, -5.7, -7.3, -16.6],
  [50.5, 14.1, 9.7, 1.9, 0.8, -3.8, -11.0, -13.3],
  [51, 13.6, 10.9, 5.8, -1.7, -4.5, -8.7, -17.8],
  [51.5, 15.8, 8.3, 3.6, 2.0, -2.7, -9.9, -12.0],
  [52, 12.4, 9.9, 6.2, -1.2, -6.8, -10.4, -17.4],
  [52.5, 14.8, 7.5, 4.3, 1.5, -3.3, -12.1, -14.1],
  [53, 13.3, 11.2, 2.4, -0.2, -5.4, -9.0, -12.4],
  [53.5, 16.4, 9.1, 7.2, 1.1, -2.1, -7.7, -15.2],
  [54, 12.8, 8.2, 5.5, -0.5, -6.3, -9.3, -13.8],
  [54.5, 17.6, 10.6, 3.9, 3.1, -1.6, -11.2, -11.4],
  [55, 14.0, 7.7, 5.0, 0.6, -4.1, -8.4, -16.1],
  [55.5, 15.4, 12.3, 6.5, -1.3, -2.5, -10.0, -12.9],
  [56, 13.5, 9.0, 2.8, 0.1, -5.6, -7.1, -14.5],
  [56.5, 16.0, 11.5, 7.0, 4.0, -3.0, -9.3, -10.9],
  [57, 14.6, 8.6, 4.4, 1.0, -3.7, -11.0, -15.6],
  [57.5, 17.0, 12.4, 6.2, 3.3, -1.3, -8.2, -12.6],
  [58, 15.2, 10.6, 5.1, -0.7, -4.8, -7.2, -13.9],
  [58.5, 16.6, 9.3, 7.4, 2.9, -1.9, -10.7, -11.8],
  [59, 15.9, 13.0, 5.9, 0.4, -2.4, -6.9, -16.9],
  [59.5, 18.4, 11.2, 8.9, 4.2, -0.8, -8.6, -10.5],
  [60, 19.0, 12.1, 8.0, 2.7, -1.8, -6.6, -10.9],
  [60.5, 16.8, 10.4, 6.9, 4.1, -3.2, -8.4, -14.0],
  [61, 15.1, 12.6, 5.2, 0.9, -0.6, -5.7, -11.9],
  [61.5, 13.7, 8.1, 3.3, -2.0, -4.7, -9.9, -15.3],
  [62, 14.9, 11.7, 7.7, 1.9, -6.2, -7.4, -13.2],
  [62.5, 12.9, 9.0, 5.5, -1.0, -3.1, -10.6, -17.2],
  [63, 15.6, 10.1, 3.8, 0.6, -4.5, -8.0, -12.1],
  [63.5, 13.1, 7.2, 6.3, 2.9, -2.3, -11.4, -14.6],
  [64, 16.1, 12.9, 8.4, 1.2, -5.4, -6.0, -10.7],
  [64.5, 12.6, 9.7, 2.6, -0.1, -3.9, -8.7, -16.5],
  [65, 14.4, 6.4, 4.5, 3.2, -1.5, -9.6, -13.5],
  [65.5, 13.0, 10.6, 7.0, -2.8, -6.9, -12.3, -18.6],
  [66, 15.3, 8.2, 3.0, 0.3, -4.1, -7.9, -12.3],
  [66.5, 12.2, 11.3, 5.9, 1.7, -2.4, -10.2, -15.7],
  [67, 14.0, 7.5, 2.2, -1.2, -5.8, -9.1, -13.1],
  [67.5, 12.7, 9.6, 6.1, 3.6, -3.6, -7.2, -17.9],
  [68, 13.5, 10.9, 4.2, -0.4, -6.5, -11.6, -14.9],
  [68.5, 11.9, 8.4, 2.8, 1.0, -2.0, -8.8, -12.0],
  [69, 14.2, 6.9, 5.0, -1.8, -4.9, -10.0, -16.4],
  [69.5, 12.3, 9.9, 3.5, 0.7, -6.1, -9.3, -13.4],
  [70, 13.6, 7.8, 6.6, 2.3, -3.0, -11.9, -18.8],
  [70.5, 11.8, 10.5, 1.9, -0.9, -5.1, -7.8, -14.2],
  [71, 14.8, 8.9, 4.8, 2.0, -2.6, -9.7, -12.7],
  [71.5, 12.0, 6.3, 3.9, -1.5, -7.3, -10.8, -16.2],
  [72, 13.4, 10.2, 5.7, 0.4, -4.0, -8.1, -13.9],
  [72.5, 11.6, 8.0, 1.3, -2.7, -5.6, -12.5, -18.2],
  [73, 15.9, 9.0, 6.8, 2.6, -3.8, -9.2, -12.4],
  [73.5, 12.4, 7.1, 3.1, -0.3, -6.9, -11.1, -15.1],
  [74, 13.8, 10.8, 4.6, 1.6, -2.3, -7.6, -13.0],
  [74.5, 11.5, 8.6, 2.1, -1.1, -5.0, -10.3, -16.7],
  [75, 14.3, 6.7, 5.4, 0.8, -4.6, -8.9, -12.9],
  [75.5, 12.1, 9.4, 3.0, -2.4, -7.1, -11.8, -19.5],
  [76, 13.2, 7.9, 1.7, 0.1, -3.3, -9.4, -14.4],
  [76.5, 11.4, 10.0, 4.4, -1.7, -5.9, -12.0, -13.6],
  [77, 14.1, 8.5, 2.9, 0.5, -4.4, -7.7, -17.3],
  [77.5, 12.8, 6.1, 5.6, -2.9, -6.4, -10.6, -12.2],
  [78, 16.6, 9.8, 3.7, 1.9, -3.7, -8.4, -15.0],
  [78.5, 12.5, 7.0, 2.5, -0.8, -5.3, -11.4, -13.7],
  [79, 13.9, 10.6, 4.9, 0.0, -2.8, -9.8, -16.0],
  [79.5, 11.7, 8.3, 1.1, -2.2, -7.6, -12.9, -19.0],
  [80, 14.5, 9.1, 6.0, 2.4, -4.3, -8.6, -12.6],
  [80.5, 12.2, 6.5, 3.8, -0.5, -5.9, -11.0, -14.8],
  [81, 13.3, 10.4, 2.0, -1.6, -3.5, -10.1, -18.0],
  [81.5, 11.2, 7.4, 4.7, 0.9, -6.7, -12.7, -15.5],
  [82, 14.0, 8.7, 1.5, -2.5, -5.1, -9.0, -19.6],
  [82.5, 12.0, 6.0, 3.4, 0.6, -7.8, -13.6, -13.2],
  [83, 15.2, 9.8, 5.3, -1.0, -4.2, -11.8, -16.3],
  [83.5, 11.6, 7.8, 2.2, -3.1, -8.4, -10.3, -14.1],
  [84, 13.6, 10.0, 4.1, 1.8, -6.0, -12.2, -17.6],
  [84.5, 12.5, 6.8, 0.7, -2.0, -4.7, -9.2, -18.9],
  [85, 14.7, 9.3, 5.6, -0.6, -7.3, -14.5, -13.9],
  [85.5, 11.8, 8.1, 2.6, -3.9, -5.4, -11.6, -16.8],
  [86, 13.1, 6.3, 3.6, 0.2, -8.9, -12.9, -19.8],
  [86.5, 12.7, 10.2, 1.2, -2.8, -6.1, -15.8, -15.4],
  [87, 14.9, 7.2, 4.9, -1.5, -4.0, -10.7, -17.0],
  [87.5, 11.9, 9.5, 2.4, -0.2, -7.9, -13.1, -18.5],
  [88, 13.4, 8.0, 5.1, -3.4, -6.5, -11.3, -19.3],
  [88.5, 12.3, 6.6, 0.9, -1.9, -9.4, -14.3, -16.2],
  [89, 15.0, 10.9, 3.9, -0.7, -5.5, -12.0, -18.2]
];

// Further normalised ΔSWV values [%] between the rows above
const swvNormScatterRowsB = [
  [13.75, 6.1, 2.0, -2.8, -5.9, 8.9, -0.5],
  [14.25, 8.7, 3.9, -0.9, -4.7, 11.8, -8.9],
  [14.75, 7.3, 1.5, -3.6, -6.8, 10.1, 4.8],
  [15.25, 9.9, 5.1, 0.2, -3.0, 12.7, -7.1],
  [15.75, 10.6, 6.4, 1.7, -4.4, -8.1, 13.8],
  [16.25, 8.4, 3.3, -1.4, -5.4, 11.4, -2.5],
  [16.75, 11.1, 7.8, 2.0, -2.2, -6.3, 14.4],
  [17.25, 9.5, 4.6, 0.7, -3.3, -7.8, 12.6],
  [17.75, 12.2, 8.4, 3.6, -1.9, -5.1, 10.0],
  [18.25, 10.3, 5.9, 1.4, -2.7, -6.6, 15.2],
  [18.75, 11.7, 7.0, 2.9, -0.8, -4.6, 14.1],
  [19.25, 9.2, 6.2, 1.1, -3.4, -7.4, 12.9],
  [19.75, 10.8, 7.5, 2.5, -1.2, -5.9, -9.7],
  [20.25, 9.6, 5.4, 0.9, -2.5, -6.9, 11.3],
  [20.75, 10.1, 6.9, 2.8, -1.6, -5.6, -8.7],
  [21.25, 8.8, 4.9, 0.3, -3.9, -7.4, 11.0],
  [21.75, 9.9, 6.2, 1.6, -2.2, -6.3, -9.1],
  [22.25, 8.5, 4.1, -0.4, -4.6, -8.0, 10.4],
  [22.75, 9.7, 5.6, 2.2, -1.8, -5.7, -9.8],
  [23.25, 8.1, 3.8, -0.1, -3.8, -7.9, 10.6],
  [23.75, 10.0, 6.6, 1.4, -2.6, -6.5, -9.6],
  [24.25, 8.6, 4.5, 0.6, -4.1, -8.6, 11.2],
  [24.75, 9.3, 5.8, 1.8, -2.4, -6.9, -10.2],
  [25.25, 7.9, 3.6, -0.6, -4.8, -8.8, 10.9],
  [25.75, 9.1, 5.0, 1.1, -3.0, -7.6, -10.0],
  [26.25, 8.3, 4.3, 0.0, -4.1, -9.2, 11.5],
  [26.75, 9.8, 6.0, 1.9, -2.0, -6.2, -9.4],
  [27.25, 8.0, 4.0, -0.5, -4.6, -8.7, 10.3],
  [27.75, 9.4, 5.5, 1.3, -3.0, -7.0, -10.5],
  [28.25, 7.7, 3.4, -1.0, -5.2, -9.4, 11.0],
  [28.75, 9.0, 5.2, 0.8, -3.5, -7.8, -10.9],
  [29.25, 8.2, 4.2, 0.1, -4.2, -8.8, 10.5],
  [29.75, 9.6, 6.1, 1.6, -2.8, -6.6, -10.4],
  [30.25, 8.4, 4.4, -0.3, -4.5, -9.0, 11.2],
  [30.75, 9.2, 5.3, 0.9, -3.1, -7.3, -11.0],
  [31.25, 7.8, 3.9, -0.8, -5.0, -8.9, 10.8],
  [31.75, 9.5, 5.7, 1.5, -2.6, -6.8, -10.6],
  [32.25, 8.1, 4.1, 0.2, -4.3, -8.5, 11.6],
  [32.75, 9.3, 6.0, 1.2, -3.3, -7.5, -10.1],
  [33.25, 8.6, 4.7, -0.2, -4.4, -9.3, 10.9],
  [33.75, 9.8, 5.5, 1.0, -3.0, -7.2, -11.3],
  [34.25, 8.0, 4.3, 0.5, -4.0, -8.2, 11.3],
  [34.75, 9.4, 6.2, 1.7, -2.5, -6.5, -10.8],
  [35.25, 8.3, 3.7, -0.6, -4.9, -9.5, 10.6],
  [35.75, 9.7, 5.4, 1.3, -3.4, -7.7, -11.5],
  [36.25, 8.5, 4.5, 0.3, -4.1, -8.6, 11.8],
  [36.75, 9.9, 6.3, 2.0, -2.4, -6.8, -10.3],
  [37.25, 8.2, 4.0, -0.3, -4.7, -9.0, 11.0],
  [37.75, 9.6, 5.8, 1.4, -3.2, -7.4, -11.9],
  [38.25, 8.7, 4.6, 0.6, -3.9, -8.3, 12.0],
  [38.75, 10.1, 6.4, 2.1, -2.6, -6.9, -10.7],
  [39.25, 8.9, 4.8, 0.4, -4.2, -8.7, 11.4],
  [39.75, 10.3, 6.6, 2.4, -2.1, -6.2, -11.2],
  [40.25, 9.4, 3.2, -1.1, -5.3, -9.6, 12.2],
  [40.75, 7.1, 1.9, -3.8, -7.0, 10.5, 4.4],
  [41.25, 11.3, 5.6, 0.2, -2.9, -8.3, -12.6],
  [41.75, 8.2, 3.9, -1.7, -6.4, 13.0, -4.1],
  [42.25, 10.0, 6.8, 2.6, -0.8, -9.1, 1.1],
  [42.75, 12.4, 4.7, -2.5, -5.9, 8.9, -11.0],
  [43.25, 9.1, 7.5, 0.9, -4.4, -7.6, 14.2],
  [43.75, 6.3, 2.2, -1.3, -8.8, 11.7, -3.3],
  [44.25, 10.8, 5.0, 3.4, -2.0, -6.2, -10.4],
  [44.75, 8.5, 1.4, -4.9, -7.9, 12.3, 6.0],
  [45.25, 11.9, 7.2, 2.8, -0.5, -3.7, -9.3],
  [45.75, 9.7, 4.3, -2.2, -5.6, 13.6, -11.8],
  [46.25, 7.8, 3.0, 0.4, -6.9, 10.9, -8.1],
  [46.75, 12.8, 8.9, 5.3, -1.5, -4.3, -13.4],
  [47.25, 10.2, 6.1, 1.0, -3.1, -9.8, 14.8],
  [47.75, 8.0, 2.5, -0.9, -5.2, -7.3, 11.6],
  [48.25, 13.3, 9.4, 4.8, -2.7, -6.0, 0.0],
  [48.75, 11.0, 5.7, 1.8, -3.9, -8.6, -12.1],
  [49.25, 7.4, 3.5, -1.9, -6.6, 12.9, 9.8],
  [49.75, 10.6, 6.4, 2.0, -0.2, -4.8, -10.7],
  [50.25, 12.1, 8.2, 4.0, -2.4, -7.7, 14.0],
  [50.75, 9.3, 4.9, 0.6, -5.0, -9.0, 11.4],
  [51.25, 13.9, 7.0, 3.1, -1.2, -3.5, -11.4],
  [51.75, 8.7, 5.2, -0.6, -4.6, -8.4, 10.1],
  [52.25, 11.5, 6.9, 2.3, -2.9, -6.3, -13.0],
  [52.75, 9.9, 4.1, 1.5, -0.4, -5.7, 13.2],
  [53.25, 12.6, 8.0, 3.7, -3.4, -9.5, 6.5],
  [53.75, 10.4, 5.5, -1.6, -6.8, 14.6, -10.2],
  [54.25, 8.3, 2.7, 0.8, -2.1, -4.9, 11.9],
  [54.75, 13.0, 9.6, 4.5, -0.7, -7.1, -12.3],
  [55.25, 11.1, 6.2, 1.3, -3.6, -8.9, 15.1],
  [55.75, 9.0, 3.8, -0.1, -5.4, 12.7, -9.9],
  [56.25, 12.3, 7.7, 5.0, -2.3, -6.5, -13.8],
  [56.75, 10.7, 4.4, 0.5, -4.0, -8.0, 14.3],
  [57.25, 13.6, 8.6, 2.9, -1.0, -5.8, -11.2],
  [57.75, 9.5, 6.3, 1.7, -3.2, -9.2, 12.0],
  [58.25, 14.1, 10.1, 4.2, -0.3, -4.4, -12.9],
  [58.75, 11.8, 7.3, 2.4, -2.6, -7.4, 15.9],
  [59.25, 13.2, 9.1, 5.6, 0.3, -3.8, -10.0],
  [59.75, 10.9, 6.6, 3.3, -1.4, -6.7, 16.3],
  [60.25, 14.8, 11.2, 7.8, 2.1, -2.8, -8.7],
  [60.75, 12.5, 8.4, 4.6, -0.9, -5.1, -11.5],
  [61.25, 10.3, 6.7, 1.9, -3.3, -9.4, 14.5],
  [61.75, 13.4, 9.9, 3.6, 0.2, -6.2, -12.4],
  [62.25, 11.4, 5.3, 2.5, -2.5, -7.8, 13.1],
  [62.75, 9.6, 7.2, 0.7, -4.7, -9.7, -14.8],
  [63.25, 12.9, 8.1, 4.9, -1.7, -5.5, 15.0],
  [63.75, 10.1, 4.6, 1.2, -3.0, -8.3, -11.3],
  [64.25, 13.7, 9.3, 3.9, -0.6, -6.8, 12.2],
  [64.75, 11.2, 6.0, 2.2, -4.3, -9.9, -13.6],
  [65.25, 8.9, 7.5, 0.1, -2.2, -5.9, 14.1],
  [65.75, 12.2, 5.1, 3.4, -1.1, -7.2, -10.8],
  [66.25, 10.5, 8.8, 1.6, -3.8, -8.8, 13.4],
  [66.75, 13.1, 6.2, 4.3, -0.4, -6.1, -12.7],
  [67.25, 9.3, 4.0, 2.0, -2.7, -9.3, 11.8],
  [67.75, 11.9, 7.9, 0.9, -5.0, -7.0, -14.3],
  [68.25, 10.0, 5.8, 3.0, -1.6, -5.3, 12.9],
  [68.75, 12.7, 8.5, 1.4, -3.5, -8.6, -11.0],
  [69.25, 9.1, 6.4, -0.3, -4.4, -10.2, 13.8],
  [69.75, 11.6, 4.8, 2.6, -1.9, -6.4, -12.0],
  [70.25, 13.5, 7.6, 0.4, -3.1, -9.1, 10.8],
  [70.75, 10.4, 5.6, 3.7, -0.8, -7.5, -13.1],
  [71.25, 8.6, 6.9, 1.1, -2.4, -5.6, 12.4],
  [71.75, 12.0, 4.3, -0.7, -4.9, -8.2, -10.6],
  [72.25, 9.8, 7.3, 2.7, -1.3, -6.6, 13.0],
  [72.75, 11.3, 5.4, 0.0, -3.7, -9.6, -14.5],
  [73.25, 13.9, 8.2, 3.2, -2.2, -5.2, 11.1],
  [73.75, 10.2, 6.1, 1.5, -4.1, -7.9, -12.8],
  [74.25, 8.4, 4.7, -0.5, -1.0, -6.3, 12.6],
  [74.75, 12.4, 7.8, 2.3, -3.4, -8.7, -11.6],
  [75.25, 9.7, 5.9, 0.6, -2.0, -5.0, 13.3],
  [75.75, 11.0, 3.6, 1.9, -4.6, -9.8, -13.9],
  [76.25, 13.0, 7.0, -0.2, -2.8, -7.3, 10.3],
  [76.75, 9.4, 5.0, 2.8, -1.2, -6.0, -12.1],
  [77.25, 11.7, 8.7, 1.0, -3.9, -8.5, 14.0],
  [77.75, 10.1, 4.5, -0.9, -5.5, -10.4, 12.5],
  [78.25, 12.6, 6.5, 3.5, -2.3, -7.0, -13.3],
  [78.75, 8.8, 5.2, 0.3, -4.2, -9.0, 11.2],
  [79.25, 11.4, 7.4, 2.1, -1.5, -6.9, -14.6],
  [79.75, 13.3, 6.0, -0.4, -3.6, -11.7, 10.6],
  [80.25, 10.8, 4.2, 1.6, -2.6, -8.0, -12.4],
  [80.75, 9.2, 7.9, 3.1, -5.2, -10.9, 13.7],
  [81.25, 12.1, 5.5, 0.2, -1.8, -7.7, -15.9],
  [81.75, 10.5, 8.3, 2.4, -4.5, -12.2, 11.8],
  [82.25, 13.6, 6.3, -1.0, -3.2, -9.3, -14.2],
  [82.75, 11.1, 4.9, 3.7, -0.6, -6.4, -16.6],
  [83.25, 9.6, 7.1, 1.3, -5.8, -11.4, 12.8],
  [83.75, 12.8, 5.7, -0.7, -2.9, -8.8, -13.0],
  [84.25, 10.6, 8.9, 2.0, -4.0, -10.6, 14.4],
  [84.75, 13.2, 6.6, 0.5, -1.4, -7.5, -17.3],
  [85.25, 11.5, 4.0, 3.3, -6.1, -12.9, 9.9],
  [85.75, 9.3, 7.6, 1.0, -3.3, -9.6, -15.1],
  [86.25, 12.4, 5.0, -1.5, -4.8, -11.1, 13.0],
  [86.75, 10.9, 8.0, 2.9, -2.1, -8.1, -18.4],
  [87.25, 14.0, 6.2, 0.8, -5.5, -13.4, 11.6],
  [87.75, 11.3, 9.2, 3.8, -1.3, -7.0, -16.0],
  [88.25, 9.8, 5.4, -0.6, -3.9, -10.3, 13.6],
  [88.75, 12.9, 7.7, 2.2, -6.3, -14.0, -11.8]
];

// Series names
const NAME_SWV = 'ΔSWV';
const NAME_SWV_NORM = 'ΔSWV norm';
const NAME_BIAS = 'Bias (100 obs. step)';
const NAME_STD = 'STDev (100 obs. step)';

// ---- helpers that shape the arrays for ECharts ----
function rowsToPoints() {
  const pts = [];
  for (let a = 0; a < arguments.length; a++) {
    arguments[a].forEach(function (r) {
      for (let i = 1; i < r.length; i++) pts.push([r[0], r[i]]);
    });
  }
  return pts;
}
function pairUp(xs, ys) {
  return xs.map(function (x, i) { return [x, ys[i]]; });
}

const FONT = 'DejaVu Sans';
const CROSS = 'path://M0,0L10,10M10,0L0,10';
const CROSS_COLOR = '#c2c2c2';
const BAR_ICON = 'path://M0,0H60V6.5H0Z';

function bottomAxis(gridIndex, min, max, ticks) {
  return {
    gridIndex: gridIndex, type: 'value', position: 'bottom', min: min, max: max,
    name: 'elevation [ ° ]', nameLocation: 'middle', nameGap: 35,
    nameTextStyle: { fontFamily: FONT, fontWeight: 'bold', fontSize: 17, color: '#000' },
    axisLine: { show: true, onZero: false, lineStyle: { color: '#000', width: 1.3 } },
    axisTick: { show: true, inside: true, length: 5, customValues: ticks, lineStyle: { color: '#000', width: 1 } },
    axisLabel: { show: true, customValues: ticks, margin: 9, fontFamily: FONT, fontWeight: 'bold', fontSize: 18, color: '#000' },
    splitLine: { show: false }
  };
}
function topAxis(gridIndex, min, max, ticks) {
  return {
    gridIndex: gridIndex, type: 'value', position: 'top', min: min, max: max,
    axisLine: { show: true, onZero: false, lineStyle: { color: '#000', width: 1.3 } },
    axisTick: { show: true, inside: true, length: 5, customValues: ticks, lineStyle: { color: '#000', width: 1 } },
    axisLabel: { show: false },
    splitLine: { show: false }
  };
}
function leftAxis(gridIndex, min, max, interval, name, nameGap, rich) {
  return {
    gridIndex: gridIndex, type: 'value', position: 'left', min: min, max: max, interval: interval,
    name: name, nameLocation: 'middle', nameRotate: 90, nameGap: nameGap,
    nameTextStyle: { fontFamily: FONT, fontWeight: 'bold', color: '#000', rich: rich },
    axisLine: { show: true, onZero: false, lineStyle: { color: '#000', width: 1.3 } },
    axisTick: { show: true, inside: true, length: 5, lineStyle: { color: '#000', width: 1 } },
    axisLabel: { show: true, margin: 7, fontFamily: FONT, fontWeight: 'bold', fontSize: 18, color: '#000' },
    splitLine: { show: false }
  };
}
function rightAxis(gridIndex, min, max, interval) {
  return {
    gridIndex: gridIndex, type: 'value', position: 'right', min: min, max: max, interval: interval,
    axisLine: { show: true, onZero: false, lineStyle: { color: '#000', width: 1.3 } },
    axisTick: { show: true, inside: true, length: 5, lineStyle: { color: '#000', width: 1 } },
    axisLabel: { show: false },
    splitLine: { show: false }
  };
}

function scatterSeries(name, xIdx, yIdx, points) {
  return {
    name: name, type: 'scatter', xAxisIndex: xIdx, yAxisIndex: yIdx,
    symbol: CROSS, symbolSize: 9, silent: true, z: 1,
    itemStyle: { color: 'transparent', borderColor: CROSS_COLOR, borderWidth: 1 },
    data: points
  };
}
function lineSeries(name, xIdx, yIdx, ys, color, width, z, withZeroLine) {
  const s = {
    name: name, type: 'line', xAxisIndex: xIdx, yAxisIndex: yIdx,
    symbol: 'none', silent: true, z: z,
    itemStyle: { color: color },
    lineStyle: { color: color, width: width, join: 'miter' },
    data: pairUp(stepElevation, ys)
  };
  if (withZeroLine) {
    s.markLine = {
      silent: true, symbol: ['none', 'none'], label: { show: false },
      lineStyle: { color: '#000', width: 2.5, type: 'solid' },
      emphasis: { disabled: true },
      data: [{ yAxis: 0 }]
    };
  }
  return s;
}

const leftYName = '{t|ΔSWV [ kg m}{sup|-2}{t| ]}';
const leftYRich = {
  t: { fontFamily: FONT, fontWeight: 'bold', fontSize: 18, lineHeight: 20, verticalAlign: 'bottom', color: '#000' },
  sup: { fontFamily: FONT, fontWeight: 'bold', fontSize: 12, lineHeight: 12, padding: [0, 0, 14, 0], verticalAlign: 'top', color: '#000' }
};
const rightYName = '{t|ΔSWV}{sub|norm}{t|(WVR-GPS}{sub|DF}{t|) [%]}';
const rightYRich = {
  t: { fontFamily: FONT, fontWeight: 'bold', fontSize: 19, lineHeight: 19, verticalAlign: 'top', color: '#000' },
  sub: { fontFamily: FONT, fontWeight: 'bold', fontSize: 14, lineHeight: 14, padding: [13.5, 0, 0, 0], verticalAlign: 'bottom', color: '#000' }
};

const legendText = { fontFamily: FONT, fontSize: 20, color: '#000' };

const option = {
  backgroundColor: '#ffffff',
  animation: false,
  title: [
    { text: 'DOY: 283 in 2007 number ofΔSWV: 3104', left: 90, top: 13,
      textStyle: { fontFamily: FONT, fontSize: 19, fontWeight: 'normal', color: '#000' } },
    { text: 'DOY 283 in 2007 number of ΔSWV: 3104', left: 678, top: 13,
      textStyle: { fontFamily: FONT, fontSize: 19, fontWeight: 'normal', color: '#000' } }
  ],
  grid: [
    { left: 80, top: 47, width: 462, height: 509, outerBoundsMode: 'none', show: false },
    { left: 670, top: 46, width: 451, height: 510, outerBoundsMode: 'none', show: false }
  ],
  xAxis: [
    bottomAxis(0, 13, 90, elevationTicksLeft),
    topAxis(0, 13, 90, elevationTicksLeft),
    bottomAxis(1, 13, 89.3, elevationTicksRight),
    topAxis(1, 13, 89.3, elevationTicksRight)
  ],
  yAxis: [
    leftAxis(0, -6, 10, 2, leftYName, 42, leftYRich),
    rightAxis(0, -6, 10, 2),
    leftAxis(1, -20, 30, 5, rightYName, 55, rightYRich),
    rightAxis(1, -20, 30, 5)
  ],
  legend: [
    {
      orient: 'vertical', left: 225, top: 56, selectedMode: false,
      backgroundColor: '#ffffff', borderColor: '#000', borderWidth: 1.3, borderRadius: 0,
      padding: [7, 8, 7, 12], itemGap: 10, itemWidth: 60, itemHeight: 9,
      textStyle: legendText,
      data: [
        { name: NAME_SWV, itemStyle: { color: 'transparent', borderColor: CROSS_COLOR, borderWidth: 1 } },
        { name: NAME_BIAS, icon: BAR_ICON, itemStyle: { color: '#000000', borderWidth: 0 } },
        { name: NAME_STD, icon: BAR_ICON, itemStyle: { color: '#808080', borderWidth: 0 } }
      ]
    },
    {
      orient: 'vertical', left: 809, top: 55, selectedMode: false,
      backgroundColor: '#ffffff', borderColor: '#000', borderWidth: 1.3, borderRadius: 0,
      padding: [1, 8, 4, 11], itemGap: 12, itemWidth: 58, itemHeight: 9,
      textStyle: Object.assign({}, legendText, {
        rich: {
          m: { fontFamily: FONT, fontSize: 20, lineHeight: 20, verticalAlign: 'top', color: '#000' },
          s: { fontFamily: FONT, fontSize: 14, lineHeight: 14, padding: [17, 0, 0, 0], verticalAlign: 'bottom', color: '#000' }
        }
      }),
      formatter: function (name) {
        return name === NAME_SWV_NORM ? '{m|ΔSWV}{s|norm}' : name;
      },
      data: [
        { name: NAME_SWV_NORM, itemStyle: { color: 'transparent', borderColor: CROSS_COLOR, borderWidth: 1 } },
        { name: NAME_BIAS, icon: BAR_ICON, itemStyle: { color: '#000000', borderWidth: 0 } },
        { name: NAME_STD, icon: BAR_ICON, itemStyle: { color: '#808080', borderWidth: 0 } }
      ]
    }
  ],
  series: [
    scatterSeries(NAME_SWV, 0, 0, rowsToPoints(swvScatterRows, swvScatterRowsB)),
    lineSeries(NAME_STD, 0, 0, stdSwv, '#808080', 5.5, 3, false),
    lineSeries(NAME_BIAS, 0, 0, biasSwv, '#000000', 6, 4, true),
    scatterSeries(NAME_SWV_NORM, 2, 2, rowsToPoints(swvNormScatterRows, swvNormScatterRowsB)),
    lineSeries(NAME_STD, 2, 2, stdNorm, '#808080', 5.5, 3, false),
    lineSeries(NAME_BIAS, 2, 2, biasNorm, '#000000', 6, 4, true)
  ]
};

const chart = echarts.init(document.getElementById('chart'), null, { renderer: 'canvas' });
chart.setOption(option);
</script>
</body>
</html>
